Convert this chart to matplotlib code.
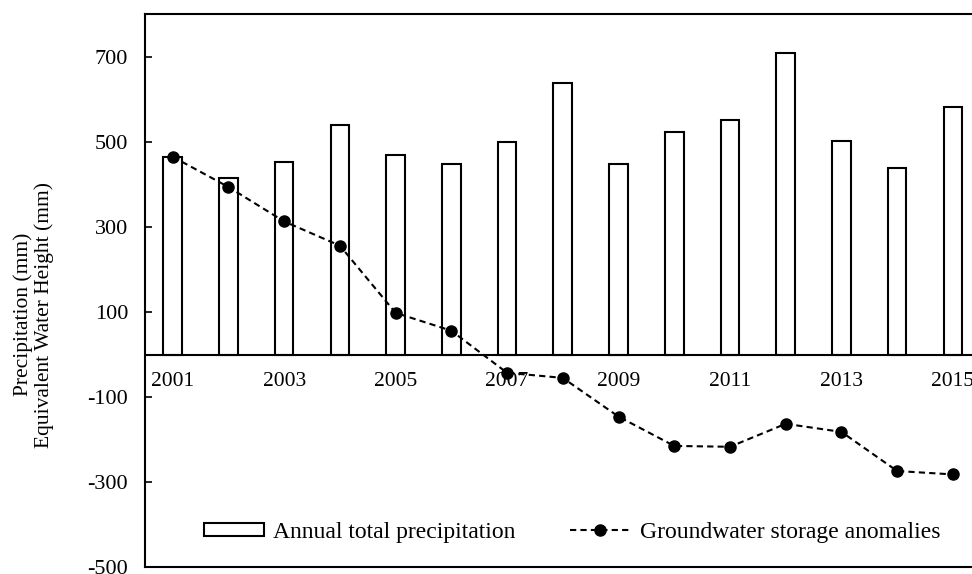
import matplotlib.pyplot as plt
import numpy as np

plt.rcParams['font.family'] = ['Liberation Serif', 'DejaVu Serif']
plt.rcParams['axes.unicode_minus'] = False

years = [2001, 2002, 2003, 2004, 2005, 2006, 2007, 2008,
         2009, 2010, 2011, 2012, 2013, 2014, 2015]
precip = [464, 415, 453, 539, 469, 448, 499, 638,
          448, 524, 552, 708, 501, 438, 583]
gws = [465, 394, 313, 256, 98, 56, -43, -55,
       -146, -215, -217, -163, -182, -274, -282]
yticks = [700, 500, 300, 100, -100, -300, -500]

fig = plt.figure(figsize=(9.72, 5.74), dpi=100)
ax = fig.add_axes([0.149, 0.012, 0.86, 0.963])

x = np.array(years)
bars = ax.bar(x, precip, width=0.335, color='white', edgecolor='black',
              linewidth=1.5, label='Annual total precipitation', zorder=2)
ax.axhline(0, color='black', linewidth=1.5, zorder=3)
line, = ax.plot(x, gws, linestyle=(0, (3, 2)), color='black', linewidth=1.5,
                marker='o', markersize=8, label='Groundwater storage anomalies', zorder=4)

ax.set_xlim(2000.5, 2015.5)
ax.set_ylim(-500, 800)
ax.set_yticks(yticks)
ax.tick_params(axis='y', direction='in', length=5, width=1.2, labelsize=16, pad=12)
ax.set_xticks([])

# year labels sit just under the zero line
for yr in years[::2]:
    ax.text(yr, -63, str(yr), ha='center', va='center', fontsize=15.5)

for side in ['top', 'bottom', 'left']:
    ax.spines[side].set_linewidth(1.5)
ax.spines['right'].set_visible(False)

fig.text(0.035, 0.452, 'Precipitation (mm)\nEquivalent Water Height (mm)',
         rotation=90, ha='center', va='center', fontsize=15.5, linespacing=1.1,
         multialignment='center')

ax.legend([bars, line], ['Annual total precipitation', 'Groundwater storage anomalies'],
          loc='center', bbox_to_anchor=(0.511, 0.063), ncol=2, frameon=False,
          fontsize=17, handlelength=2.55, handletextpad=0.4, columnspacing=2.3,
          handleheight=0.45)

fig.savefig('out.png', dpi=100)
